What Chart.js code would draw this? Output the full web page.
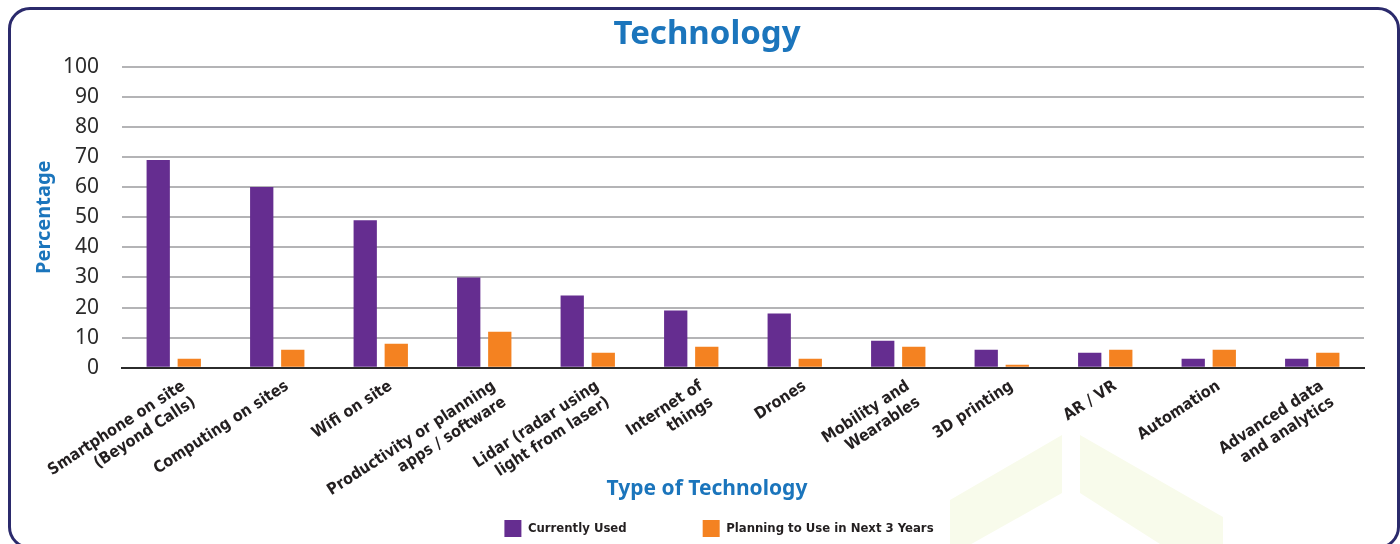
<!DOCTYPE html>
<html>
<head>
<meta charset="utf-8">
<script src="https://cdn.jsdelivr.net/npm/chart.js@4"></script>
<style>
    html, body { margin: 0; padding: 0; background: #fff; }
    .wrap { position: relative; width: 1400px; height: 544px; overflow: hidden; }
    .frame {
        position: absolute; left: 8px; top: 7px; width: 1386px; height: 536px;
        border: 3px solid #2b2a6c; border-radius: 22px;
    }
    .deco { position: absolute; left: 0; top: 0; width: 1400px; height: 544px; background: #f8fbeb; }
    .deco1 { clip-path: polygon(950px 500px, 1062px 435px, 1062px 493px, 950px 556px); }
    .deco2 { clip-path: polygon(1080px 435px, 1223px 517px, 1223px 544px, 1160px 544px, 1080px 493px); }
    canvas { position: absolute; left: 0; top: 0; }
</style>
</head>
<body>
<div class="wrap">
    <div class="deco deco1"></div>
    <div class="deco deco2"></div>
    <div class="frame"></div>
    <canvas id="techChart" width="1400" height="544"></canvas>
</div>
<script>
const categories = [
    ["Smartphone on site", "(Beyond Calls)"],
    "Computing on sites",
    "Wifi on site",
    ["Productivity or planning", "apps / software"],
    ["Lidar (radar using", "light from laser)"],
    ["Internet of", "things"],
    "Drones",
    ["Mobility and", "Wearables"],
    "3D printing",
    "AR / VR",
    "Automation",
    ["Advanced data", "and analytics"]
];
const currentlyUsed = [69, 60, 49, 30, 24, 19, 18, 9, 6, 5, 3, 3];
const planningToUse = [3, 6, 8, 12, 5, 7, 3, 7, 1, 6, 6, 5];

const blue = '#1b75bc';
const narrow = "'Liberation Sans Narrow', 'DejaVu Sans Condensed', sans-serif";
const legendGap = 76;

// legend sits lower than chart.js would put it with this much item padding,
// and the rotated x labels run down past the axis box (they'd get clipped)
const layoutTweaks = {
    id: 'layoutTweaks',
    afterLayout(chart) {
        const lg = chart.legend;
        if (lg) {
            lg.top = 520 - legendGap;
            lg.left += 12;
            lg.right += 12;
        }
        chart.scales.x.bottom = chart.height;
    }
};

const ctx = document.getElementById('techChart').getContext('2d');
new Chart(ctx, {
    type: 'bar',
    data: {
        labels: categories,
        datasets: [
            { label: 'Currently Used', data: currentlyUsed, backgroundColor: '#652d90', categoryPercentage: 0.6, barPercentage: 0.75 },
            { label: 'Planning to Use in Next 3 Years', data: planningToUse, backgroundColor: '#f48221', categoryPercentage: 0.6, barPercentage: 0.75 }
        ]
    },
    options: {
        responsive: false,
        animation: false,
        layout: { padding: { left: 14, right: 0, top: 0, bottom: 0 } },
        plugins: {
            title: {
                display: true,
                text: 'Technology',
                color: blue,
                font: { family: "'Noto Sans', sans-serif", size: 33, weight: 'bold' },
                padding: { top: 15, bottom: 12 }
            },
            subtitle: {
                display: true,
                position: 'bottom',
                weight: 500,
                text: 'Type of Technology',
                color: blue,
                font: { family: "'Noto Sans', sans-serif", size: 21, weight: 'bold' },
                padding: { top: 4, bottom: 8 }
            },
            legend: {
                position: 'bottom',
                maxHeight: 34,
                labels: {
                    boxWidth: 17,
                    boxHeight: 17,
                    padding: legendGap,
                    color: '#231f20',
                    font: { family: narrow, size: 13, weight: 'bold' }
                }
            },
            tooltip: { enabled: false }
        },
        scales: {
            x: {
                grid: { display: false },
                border: { display: true, color: '#2b2b2b', width: 2 },
                ticks: {
                    minRotation: 33,
                    maxRotation: 33,
                    autoSkip: false,
                    padding: 1,
                    labelOffset: 10,
                    color: '#231f20',
                    font: { family: narrow, size: 16, weight: 'bold' }
                },
                afterFit(s) {
                    s.height = 105;
                    s.paddingLeft = 0;
                    s.paddingRight = 36;
                }
            },
            y: {
                min: 0,
                max: 100,
                border: { display: false },
                grid: {
                    drawTicks: false,
                    lineWidth: 2,
                    color: c => c.tick.value === 0 ? '#2b2b2b' : '#b4b4b6'
                },
                ticks: {
                    stepSize: 10,
                    padding: 23,
                    color: '#2b2b2b',
                    font: { family: "'Noto Sans', sans-serif", size: 21 }
                },
                title: {
                    display: true,
                    text: 'Percentage',
                    color: blue,
                    font: { family: "'Noto Sans', sans-serif", size: 20, weight: 'bold' },
                    padding: { top: 18, bottom: 0 }
                },
                afterFit(s) { s.width = 108; }
            }
        }
    },
    plugins: [layoutTweaks]
});
</script>
</body>
</html>
